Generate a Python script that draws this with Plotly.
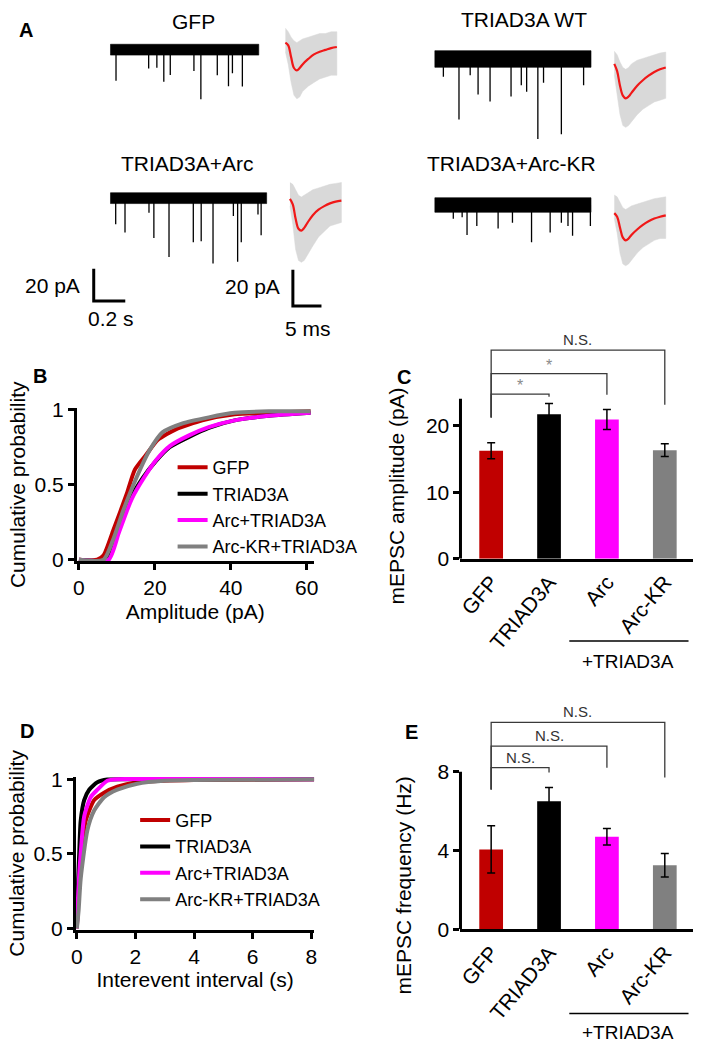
import plotly.graph_objects as go

W, H = 709, 1049
FONT = "Liberation Sans, Arial, Helvetica, sans-serif"

# ------------------------------------------------------------------ data
groups = ["GFP", "TRIAD3A", "Arc", "Arc-KR"]
group_colors = ["#C00000", "#000000", "#FF00FF", "#808080"]
legend_names = ["GFP", "TRIAD3A", "Arc+TRIAD3A", "Arc-KR+TRIAD3A"]

# Panel C : mEPSC amplitude (pA)
amp_mean = [16.2, 21.7, 20.9, 16.3]
amp_sem = [1.2, 1.6, 1.5, 0.95]
amp_sig_labels = ["*", "*", "N.S."]
amp_bracket_y = [24.7, 27.8, 31.3]
amp_bracket_right_bottom = [24.3, 24.6, 23.1]
amp_bracket_left_bottom = 21.2

# Panel E : mEPSC frequency (Hz)
freq_mean = [4.05, 6.5, 4.7, 3.25]
freq_sem = [1.2, 0.7, 0.42, 0.6]
freq_sig_labels = ["N.S.", "N.S.", "N.S."]
freq_bracket_y = [8.2, 9.3, 10.5]
freq_bracket_right_bottom = [7.96, 8.2, 7.7]
freq_bracket_left_bottom = 7.1

# Panel B : cumulative amplitude distributions
amp_cdf_x = [
    [0, 4.8, 6.5, 9.1, 12.6, 14.7, 17.7, 20.8, 25.5, 32.5, 41, 50, 61],
    [0, 7.4, 10, 13.4, 16.9, 20.3, 23.8, 29, 34.2, 41, 50, 61],
    [0, 7.8, 10.5, 13.8, 17.2, 20.5, 24, 29, 34.2, 41, 50, 61],
    [0, 6.5, 9.1, 11.7, 15.2, 18.6, 22, 27.3, 34.2, 41, 50, 61],
]
amp_cdf_p = [
    [0, 0, 0.03, 0.2, 0.44, 0.6, 0.70, 0.80, 0.87, 0.93, 0.97, 0.98, 0.99],
    [0, 0, 0.18, 0.40, 0.55, 0.66, 0.75, 0.82, 0.88, 0.93, 0.96, 0.98],
    [0, 0, 0.18, 0.40, 0.55, 0.67, 0.76, 0.83, 0.885, 0.93, 0.96, 0.98],
    [0, 0, 0.14, 0.33, 0.55, 0.73, 0.85, 0.91, 0.95, 0.98, 0.99, 0.99],
]

# Panel D : cumulative interevent interval distributions
iei_cdf_x = [
    [0, 0.05, 0.13, 0.3, 0.59, 0.93, 1.38, 2.06, 2.96, 4, 8.1],
    [0, 0.04, 0.08, 0.13, 0.25, 0.42, 0.7, 1.04, 2, 8.1],
    [0, 0.05, 0.13, 0.25, 0.47, 0.7, 1.04, 1.38, 8.1],
    [0, 0.06, 0.13, 0.36, 0.59, 0.93, 1.38, 2.06, 2.96, 4, 8.1],
]
iei_cdf_p = [
    [0, 0.2, 0.46, 0.72, 0.86, 0.91, 0.95, 0.98, 0.99, 0.995, 1.0],
    [0, 0.3, 0.5, 0.72, 0.86, 0.93, 0.98, 0.998, 1.0, 1.0],
    [0, 0.25, 0.5, 0.75, 0.88, 0.93, 0.99, 1.0, 1.0],
    [0, 0.12, 0.33, 0.66, 0.79, 0.88, 0.93, 0.97, 0.99, 0.995, 1.0],
]

# Panel A : example recordings (time in s, current in pA)
trace_titles = ["GFP", "TRIAD3A WT", "TRIAD3A+Arc", "TRIAD3A+Arc-KR"]
trace_duration = [0.94, 0.99, 0.99, 0.99]
trace_noise_pp = [6.7, 10.3, 6.7, 9.0]
event_times = [
    [0.035, 0.242, 0.294, 0.338, 0.379, 0.529, 0.573, 0.677, 0.748, 0.773, 0.836],
    [0.054, 0.153, 0.224, 0.274, 0.35, 0.483, 0.548, 0.582, 0.653, 0.689, 0.802, 0.943],
    [0.033, 0.092, 0.244, 0.275, 0.371, 0.525, 0.575, 0.650, 0.779, 0.806, 0.829, 0.935, 0.955],
    [0.117, 0.173, 0.204, 0.266, 0.401, 0.492, 0.613, 0.731, 0.802, 0.844, 0.873, 0.986],
]
event_amps = [
    [19.2, 11.7, 11.1, 19.8, 15.6, 13.2, 30.7, 15.8, 22.6, 14.5, 22.8],
    [11, 37.4, 10, 22, 26.3, 23.2, 16.2, 20.2, 49.5, 14.7, 46.5, 16.2],
    [16.1, 21.2, 9.1, 24.6, 36.4, 27.3, 26.7, 40.4, 11.1, 39.4, 27.3, 10.1, 23],
    [8.5, 7.5, 18.6, 13, 14.6, 11, 23, 17, 11, 13, 19, 13],
]

# averaged mEPSC (time in ms, current in pA)
avg_t = [0, 0.5, 1.0, 1.5, 2.0, 2.5, 3, 4, 5, 6, 7, 8, 9]
avg_mean = [
    [0, -1.5, -8, -14, -15.3, -14, -12, -9, -6.5, -5, -4, -3, -2.4],
    [0, -4, -12, -17.5, -19, -18, -16, -12, -9, -6.5, -4.5, -3, -2],
    [0, -3, -11, -16.5, -17.5, -16, -13.5, -9, -6, -4, -2.5, -1.5, -1],
    [0, -2, -8, -13.5, -15, -14, -12, -9, -6.5, -4.5, -3, -2, -1.2],
]
avg_upper = [
    [8, 6, 3, 1, 0, 1, 2, 3, 4, 5, 5, 6, 6],
    [7, 5, 1, -2, -3, -2, 0, 2, 3, 4, 5, 6, 6.5],
    [9, 8, 5, 2, 1, 2, 3, 5, 6, 7, 8, 8.5, 9],
    [10, 9, 6, 3, 2, 3, 4, 5, 6, 7, 8, 8.5, 9],
]
avg_lower = [
    [-5, -12, -22, -29, -31, -30, -27, -24, -22, -20, -19, -18, -18],
    [-6, -16, -28, -34, -35, -34, -32, -28, -25, -23, -21, -20, -19],
    [-4, -14, -28, -34, -35, -34, -31, -26, -21, -18, -15, -14, -13],
    [-3, -11, -22, -28, -29, -28, -26, -22, -19, -17, -15, -14, -14],
]

# scale bars: (time, current)
scalebar_trace = (0.2, 20)   # s, pA
scalebar_avg = (5, 20)       # ms, pA

# ------------------------------------------------------------------ layout helpers
def dom_x(a, b):
    return [a / W, b / W]


def dom_y(top, bottom):
    return [1 - bottom / H, 1 - top / H]


def scaled_domain(x0, y0, sx, sy, xr, yr):
    """x0,y0: pixel position of data origin; sx,sy: px per unit."""
    return (dom_x(x0 + xr[0] * sx, x0 + xr[1] * sx),
            dom_y(y0 - yr[1] * sy, y0 - yr[0] * sy))


fig = go.Figure()
layout = dict(
    width=W, height=H, margin=dict(l=0, r=0, t=0, b=0),
    paper_bgcolor="white", plot_bgcolor="rgba(0,0,0,0)",
    font=dict(family=FONT, size=21, color="black"),
    showlegend=True,
)
annotations = []
shapes = []

axis_common = dict(showline=True, linewidth=3, linecolor="black", ticks="outside",
                   ticklen=6, tickwidth=3, tickcolor="black", showgrid=False,
                   zeroline=False, tickfont=dict(size=21, family=FONT), fixedrange=True)


def hidden_axes(n, xdom, ydom, xr, yr):
    layout[f"xaxis{n}"] = dict(domain=xdom, range=xr, visible=False, anchor=f"y{n}", fixedrange=True)
    layout[f"yaxis{n}"] = dict(domain=ydom, range=yr, visible=False, anchor=f"x{n}", fixedrange=True)


def text_px(txt, px, py, size=21, angle=0, **kw):
    annotations.append(dict(text=txt, x=px / W, y=1 - py / H, xref="paper", yref="paper",
                            showarrow=False, font=dict(size=size, **kw), textangle=angle,
                            xanchor="center", yanchor="middle"))


# ------------------------------------------------------------------ Panel A
trace_origin_px = [(107, 40.5), (436, 50), (107, 192), (436, 199)]
avg_origin_px = [(284.4, 33.3), (618, 55), (289, 192.7), (618, 207.3)]
title_px = [(191, 12), (526, 10), (185, 157), (514, 157)]
TRACE_SX, TRACE_SY = 160, 1.65  # px per s, px per pA
AVG_SX, AVG_SY = 5.8, 1.85      # px per ms, px per pA

for i in range(4):
    n = 5 + i
    dur = trace_duration[i]
    xr = [-0.01, dur + 0.01]
    yr = [-55, 8]
    xd, yd = scaled_domain(*trace_origin_px[i], TRACE_SX, TRACE_SY, xr, yr)
    hidden_axes(n, xd, yd, xr, yr)
    h = trace_noise_pp[i] / 2
    fig.add_trace(go.Scatter(x=[0, dur, dur, 0, 0], y=[h, h, -h, -h, h], mode="lines",
                             fill="toself", fillcolor="black", line=dict(color="black", width=0.6),
                             xaxis=f"x{n}", yaxis=f"y{n}", showlegend=False, hoverinfo="skip"))
    ex, ey = [], []
    for t, a in zip(event_times[i], event_amps[i]):
        ex += [t, t, None]
        ey += [0, -a, None]
    fig.add_trace(go.Scatter(x=ex, y=ey, mode="lines", line=dict(color="black", width=1.3),
                             xaxis=f"x{n}", yaxis=f"y{n}", showlegend=False, hoverinfo="skip"))

    # averaged event
    m = 9 + i
    axr = [-0.3, 9.3]
    ayr = [-40, 14]
    xd, yd = scaled_domain(*avg_origin_px[i], AVG_SX, AVG_SY, axr, ayr)
    hidden_axes(m, xd, yd, axr, ayr)
    fig.add_trace(go.Scatter(x=avg_t + avg_t[::-1], y=avg_upper[i] + avg_lower[i][::-1],
                             mode="lines", fill="toself", fillcolor="#d9d9d9",
                             line=dict(color="#d9d9d9", width=0.5),
                             xaxis=f"x{m}", yaxis=f"y{m}", showlegend=False, hoverinfo="skip"))
    fig.add_trace(go.Scatter(x=avg_t, y=avg_mean[i], mode="lines",
                             line=dict(color="#F01818", width=2.2, shape="spline"),
                             xaxis=f"x{m}", yaxis=f"y{m}", showlegend=False, hoverinfo="skip"))
    text_px(trace_titles[i], *title_px[i])

# scale bars
for n, origin, (sx, sy), (bx, by) in [(13, (90, 297), (TRACE_SX, TRACE_SY), scalebar_trace),
                                        (14, (292, 302), (AVG_SX, AVG_SY), scalebar_avg)]:
    xr = [-0.1 * bx, 1.1 * bx]
    yr = [-0.1 * by, 1.1 * by]
    xd, yd = scaled_domain(*origin, sx, sy, xr, yr)
    hidden_axes(n, xd, yd, xr, yr)
    fig.add_trace(go.Scatter(x=[0, 0, bx], y=[by, 0, 0], mode="lines",
                             line=dict(color="black", width=3),
                             xaxis=f"x{n}", yaxis=f"y{n}", showlegend=False, hoverinfo="skip"))

for txt, pos in [("20 pA", (48, 281)), ("0.2 s", (108, 315)),
                 ("20 pA", (251, 282)), ("5 ms", (307, 325))]:
    text_px(txt, *pos)

# panel letters
for txt, pos in [("A", (21, 20)), ("B", (36, 373)), ("C", (405, 375)),
                 ("D", (22, 736)), ("E", (412, 737))]:
    text_px(f"<b>{txt}</b>", *pos, size=20)

# ------------------------------------------------------------------ Panel B
layout["xaxis"] = dict(axis_common, domain=dom_x(73, 313), range=[-0.52, 61.8], anchor="y",
                       tickvals=[0, 20, 40, 60],
                       title=dict(text="Amplitude (pA)", font=dict(size=21), standoff=6))
layout["yaxis"] = dict(axis_common, domain=dom_y(406.5, 562.5), range=[-0.01, 1.01], anchor="x",
                       tickvals=[0, 0.5, 1], ticktext=["0", "0.5", "1"],
                       title=dict(text="Cumulative probability", font=dict(size=21), standoff=4))
for i in range(4):
    fig.add_trace(go.Scatter(x=amp_cdf_x[i], y=amp_cdf_p[i], mode="lines", name=legend_names[i],
                             line=dict(color=group_colors[i], width=4, shape="spline", smoothing=0.6),
                             xaxis="x", yaxis="y", legend="legend", showlegend=True))

# ------------------------------------------------------------------ Panel D
layout["xaxis3"] = dict(axis_common, domain=dom_x(72, 313.6), range=[-0.03, 8.1], anchor="y3",
                        tickvals=[0, 2, 4, 6, 8],
                        title=dict(text="Interevent interval (s)", font=dict(size=21), standoff=6))
layout["yaxis3"] = dict(axis_common, domain=dom_y(782.7, 938.5), range=[-0.01, 1.015], anchor="x3",
                        tickvals=[0, 0.5, 1], ticktext=["0", "0.5", "1"],
                        title=dict(text="Cumulative probability", font=dict(size=21), standoff=4))
for i in range(4):
    fig.add_trace(go.Scatter(x=iei_cdf_x[i], y=iei_cdf_p[i], mode="lines", name=legend_names[i],
                             line=dict(color=group_colors[i], width=4, shape="spline", smoothing=0.6),
                             xaxis="x3", yaxis="y3", legend="legend2", showlegend=True))

legend_style = dict(bgcolor="rgba(0,0,0,0)", font=dict(size=18, family=FONT), xanchor="left",
                    yanchor="top", itemwidth=30, tracegroupgap=0, traceorder="normal")
layout["legend"] = dict(legend_style, x=170 / W, y=1 - 448 / H)
layout["legend2"] = dict(legend_style, x=132 / W, y=1 - 808 / H)

# ------------------------------------------------------------------ Panels C and E (bar charts)
cat_x = list(range(len(groups)))


def bar_panel(n, means, sems, ydom, yrange, ytick, yaxis_top, ytitle, ytitle_px,
              sig_labels, bracket_y, right_bottom, left_bottom, star_color, group_line_py, group_text_py):
    xa, ya = f"x{n}", f"y{n}"
    layout[f"xaxis{n}"] = dict(axis_common, domain=dom_x(462, 698), range=[-0.53, 3.49], anchor=ya,
                               tickvals=cat_x, ticktext=groups, tickangle=-50, ticks="")
    layout[f"yaxis{n}"] = dict(axis_common, domain=ydom, range=yrange, anchor=xa, showline=False,
                               tickvals=ytick)
    text_px(ytitle, *ytitle_px, angle=-90)
    shapes.append(dict(type="line", xref=f"{xa} domain", yref=ya, x0=0, x1=0, y0=0, y1=yaxis_top,
                       line=dict(color="black", width=3)))
    fig.add_trace(go.Bar(x=cat_x, y=means, width=0.41, marker=dict(color=group_colors, line=dict(width=0)),
                         error_y=dict(type="data", array=sems, color="black", thickness=1.5, width=4),
                         xaxis=xa, yaxis=ya, showlegend=False, hoverinfo="skip"))
    for k, j in enumerate(cat_x[1:]):
        fig.add_trace(go.Scatter(x=[0, 0, j, j], y=[left_bottom, bracket_y[k], bracket_y[k], right_bottom[k]],
                                 mode="lines", line=dict(color="#3a3a3a", width=1.3),
                                 xaxis=xa, yaxis=ya, showlegend=False, hoverinfo="skip"))
        lab = sig_labels[k]
        annotations.append(dict(text=lab, x=j / 2, y=bracket_y[k], xref=xa, yref=ya, showarrow=False,
                                xanchor="center", yanchor="bottom", yshift=0 if lab != "*" else -2,
                                font=dict(size=16 if lab == "*" else 15,
                                          color=star_color if lab == "*" else "#333333")))
    # "+TRIAD3A" grouping line below Arc and Arc-KR
    shapes.append(dict(type="line", xref=xa, yref="paper", x0=1.35, x1=3.41,
                       y0=1 - group_line_py / H, y1=1 - group_line_py / H,
                       line=dict(color="black", width=1.5)))
    annotations.append(dict(text="+TRIAD3A", x=2.37, y=1 - group_text_py / H, xref=xa, yref="paper",
                            showarrow=False, xanchor="center", yanchor="middle", font=dict(size=19)))


bar_panel(2, amp_mean, amp_sem, dom_y(335.6, 560), [0, 33], [0, 10, 20], 24,
          "mEPSC amplitude (pA)", (397, 496), amp_sig_labels, amp_bracket_y, amp_bracket_right_bottom,
          amp_bracket_left_bottom, "#8a8a8a", 644, 665)
bar_panel(4, freq_mean, freq_sem, dom_y(712.9, 938), [0, 11.2], [0, 4, 8], 8,
          "mEPSC frequency (Hz)", (404, 893), freq_sig_labels, freq_bracket_y, freq_bracket_right_bottom,
          freq_bracket_left_bottom, "#8a8a8a", 1024, 1043)

layout["annotations"] = annotations
layout["shapes"] = shapes
fig.update_layout(**layout)
fig.write_html("out.html", config={"displayModeBar": False},
               post_script="document.body.style.margin='0px';document.body.style.overflow='hidden';")
